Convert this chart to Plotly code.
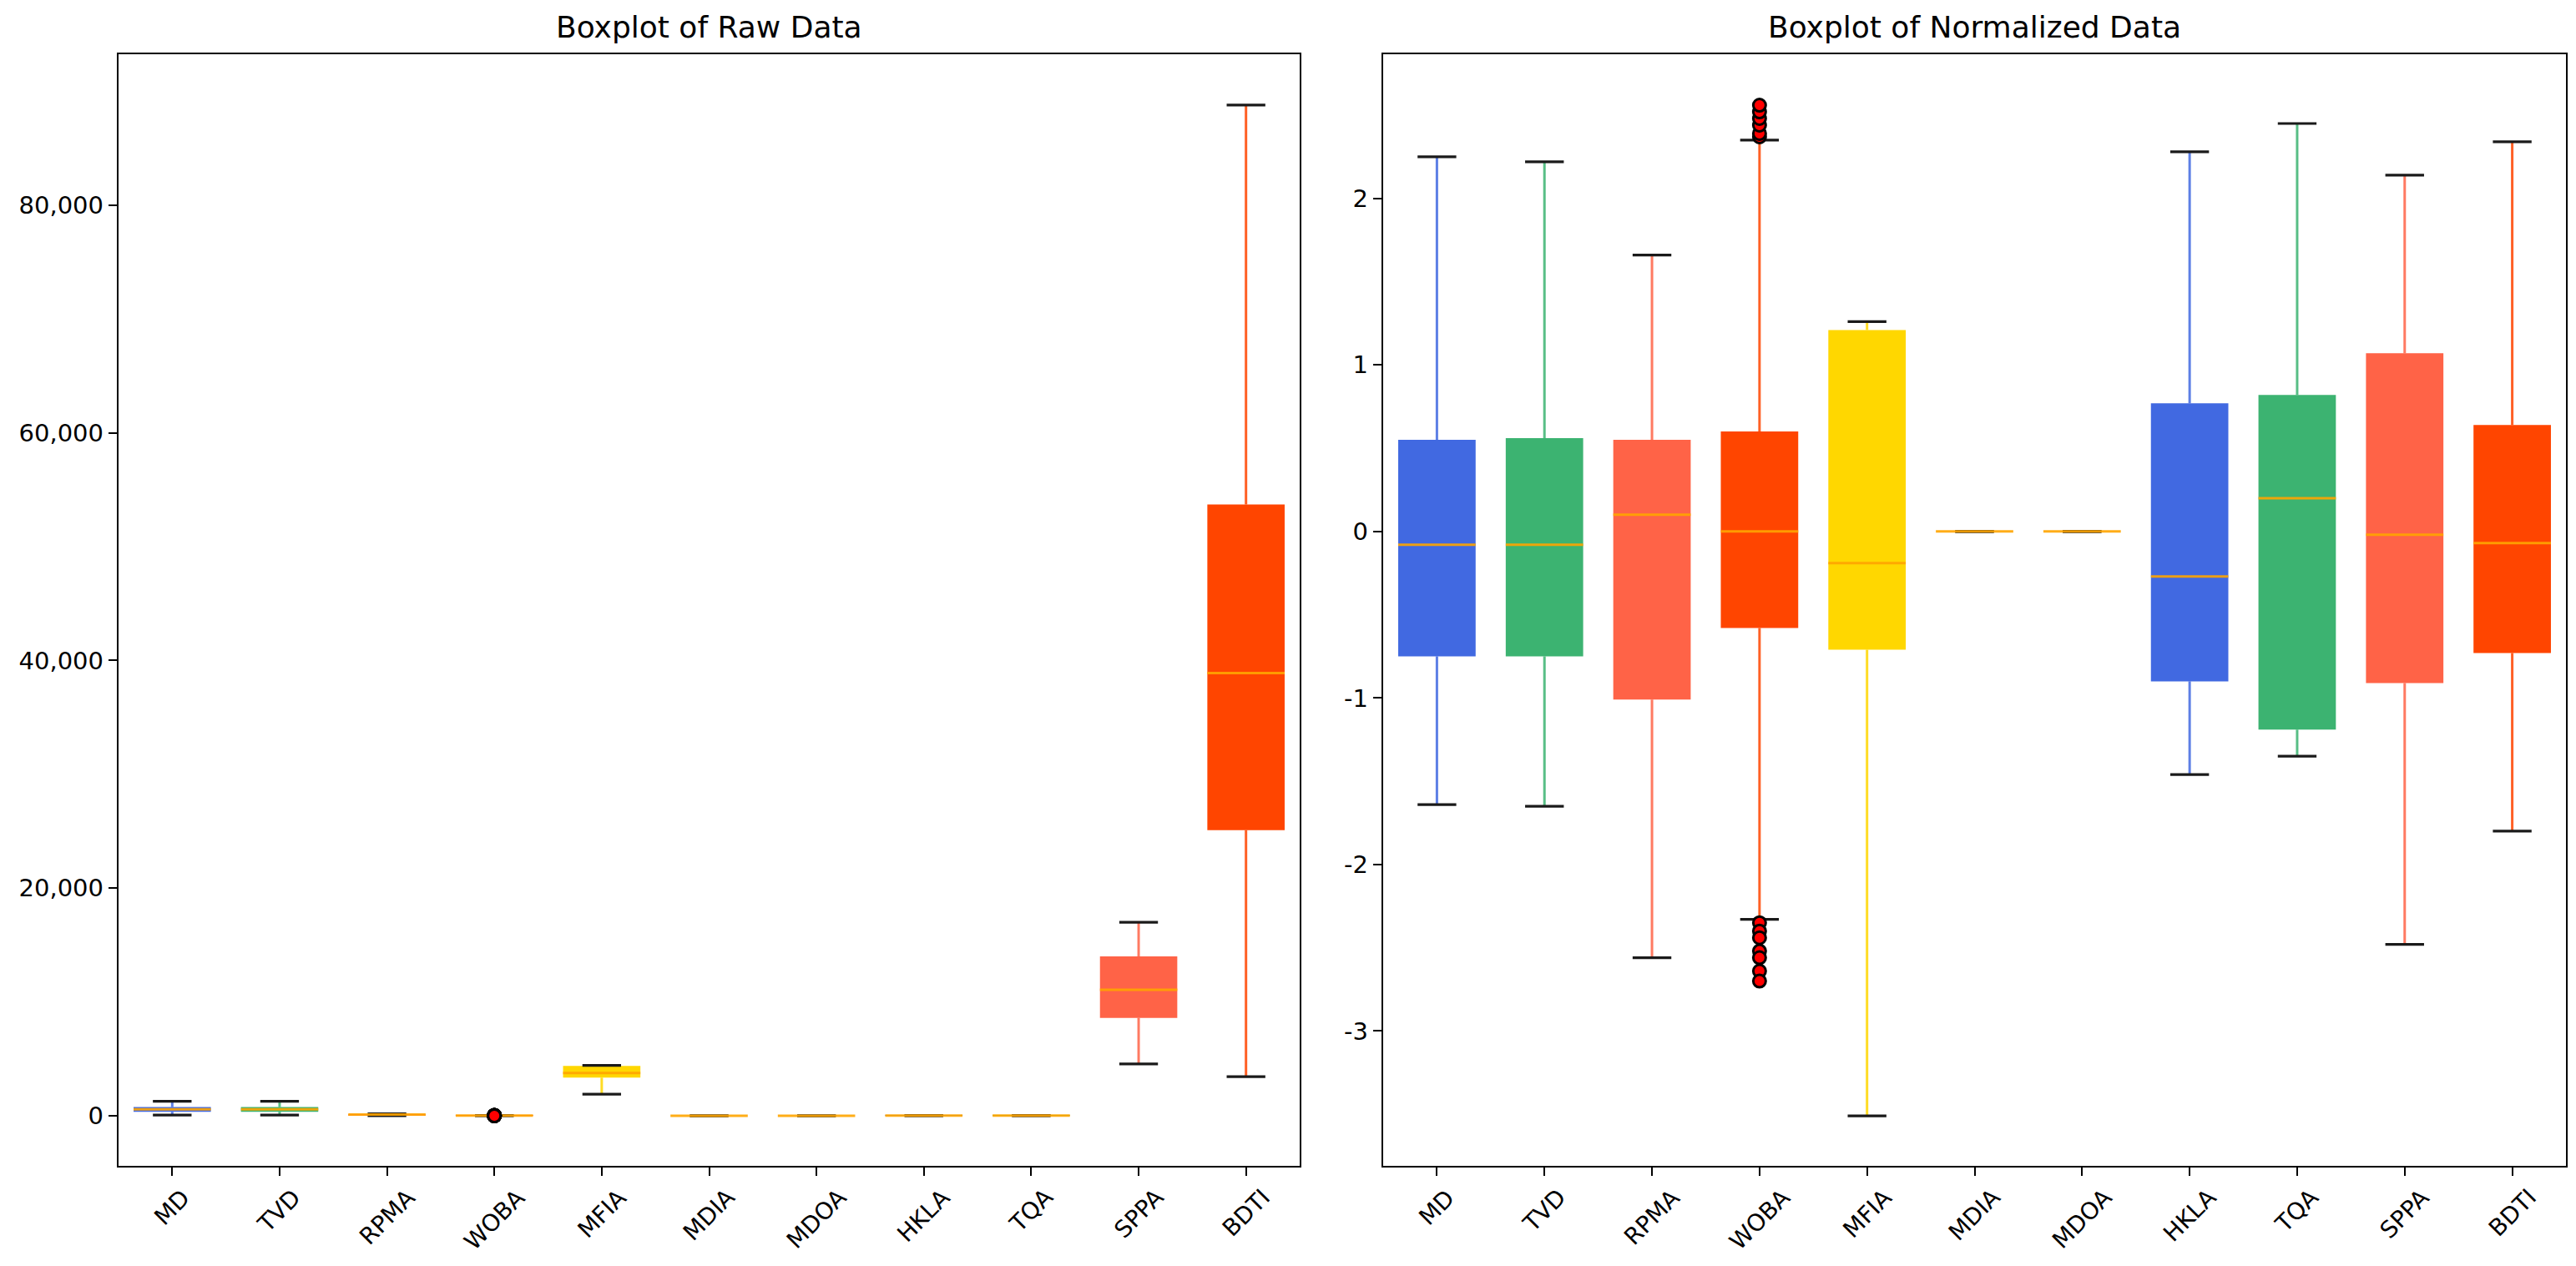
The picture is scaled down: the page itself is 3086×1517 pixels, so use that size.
import plotly.graph_objects as go

categories = ["MD", "TVD", "RPMA", "WOBA", "MFIA", "MDIA", "MDOA", "HKLA", "TQA", "SPPA", "BDTI"]
box_colors = ["#4169E1", "#3CB371", "#FF6347", "#FF4500", "#FFD700",
              "#4169E1", "#3CB371", "#4169E1", "#3CB371", "#FF6347", "#FF4500"]

# Raw data statistics
raw_low = [70, 70, 8, 3.4, 1900, 0, 0, 13, 4.6, 4560, 3440]
raw_q1 = [350, 350, 70, 12.1, 3350, 0, 0, 15, 5.2, 8600, 25100]
raw_med = [560, 560, 114, 15, 3750, 0, 0, 19, 10.8, 11070, 38900]
raw_q3 = [760, 760, 132, 18, 4380, 0, 0, 24, 13.3, 14000, 53700]
raw_high = [1280, 1270, 176, 26.8, 4420, 0, 0, 31, 19.8, 17000, 88800]
raw_woba_outliers = [27.0, 27.2, 27.4, 27.6, 27.8, 28.0, 3.2, 3.0, 2.8, 2.4, 2.2, 1.8, 1.5]

# Normalized data statistics
norm_low = [-1.64, -1.65, -2.56, -2.33, -3.51, 0, 0, -1.46, -1.35, -2.48, -1.80]
norm_q1 = [-0.75, -0.75, -1.01, -0.58, -0.71, 0, 0, -0.90, -1.19, -0.91, -0.73]
norm_med = [-0.08, -0.08, 0.10, 0.00, -0.19, 0, 0, -0.27, 0.20, -0.02, -0.07]
norm_q3 = [0.55, 0.56, 0.55, 0.60, 1.21, 0, 0, 0.77, 0.82, 1.07, 0.64]
norm_high = [2.25, 2.22, 1.66, 2.35, 1.26, 0, 0, 2.28, 2.45, 2.14, 2.34]
norm_woba_outliers = [2.37, 2.39, 2.44, 2.48, 2.52, 2.56,
                      -2.35, -2.40, -2.44, -2.52, -2.56, -2.64, -2.70]

titles = ["Boxplot of Raw Data", "Boxplot of Normalized Data"]
raw_yticks = [0, 20000, 40000, 60000, 80000]
norm_yticks = [-3, -2, -1, 0, 1, 2]

BOX_W = 0.72
CAP_W = 0.36
FONT = "DejaVu Sans"

fig = go.Figure()


def add_panel(col, low, q1, med, q3, high, outliers, outlier_pos):
    xa = "x" if col == 1 else "x2"
    ya = "y" if col == 1 else "y2"
    pos = list(range(len(categories)))
    # boxes
    fig.add_trace(go.Bar(
        x=pos, y=[b - a for a, b in zip(q1, q3)], base=q1, width=BOX_W,
        marker=dict(color=box_colors, line=dict(width=0)),
        xaxis=xa, yaxis=ya, showlegend=False, hoverinfo="skip"))
    # whiskers
    for i in pos:
        fig.add_trace(go.Scatter(
            x=[i, i, None, i, i], y=[low[i], q1[i], None, q3[i], high[i]],
            mode="lines", line=dict(color=box_colors[i], width=3),
            opacity=0.85,
            xaxis=xa, yaxis=ya, showlegend=False, hoverinfo="skip"))
    # caps
    cx, cy = [], []
    for i in pos:
        for v in (low[i], high[i]):
            cx += [i - CAP_W / 2, i + CAP_W / 2, None]
            cy += [v, v, None]
    fig.add_trace(go.Scatter(x=cx, y=cy, mode="lines",
                             line=dict(color="#1a1a1a", width=3.2),
                             xaxis=xa, yaxis=ya, showlegend=False, hoverinfo="skip"))
    # medians
    mx, my = [], []
    for i in pos:
        mx += [i - BOX_W / 2, i + BOX_W / 2, None]
        my += [med[i], med[i], None]
    fig.add_trace(go.Scatter(x=mx, y=my, mode="lines",
                             line=dict(color="#FFA500", width=3),
                             opacity=0.9,
                             xaxis=xa, yaxis=ya, showlegend=False, hoverinfo="skip"))
    # outliers
    fig.add_trace(go.Scatter(
        x=[outlier_pos] * len(outliers), y=outliers, mode="markers",
        marker=dict(color="red", size=15, line=dict(color="black", width=3)),
        xaxis=xa, yaxis=ya, showlegend=False, hoverinfo="skip"))


add_panel(1, raw_low, raw_q1, raw_med, raw_q3, raw_high, raw_woba_outliers, 3)
add_panel(2, norm_low, norm_q1, norm_med, norm_q3, norm_high, norm_woba_outliers, 3)

# The page body has an 8px margin; size the figure so it fits the window exactly.
OFF = 8
W, H = 3086 - 2 * OFF, 1517 - 2 * OFF


def px_x(p):
    return (p - OFF) / W


def px_y(p):
    return 1 - (p - OFF) / H


left_dom = [px_x(142), px_x(1557)]
right_dom = [px_x(1657), px_x(3074)]
y_dom = [px_y(1397), px_y(65)]

axis_common = dict(showline=True, mirror=True, linecolor="black", linewidth=2.4,
                   ticks="outside", ticklen=10, tickwidth=2.4, tickcolor="black",
                   showgrid=False, zeroline=False,
                   tickfont=dict(family=FONT, size=29, color="black"))

fig.update_layout(
    width=W, height=H,
    margin=dict(l=0, r=0, t=0, b=0, autoexpand=False),
    paper_bgcolor="white", plot_bgcolor="white",
    showlegend=False, barmode="overlay",
    xaxis=dict(domain=left_dom, range=[-0.5, 10.5], tickvals=list(range(11)),
               showticklabels=False, anchor="y", **axis_common),
    xaxis2=dict(domain=right_dom, range=[-0.5, 10.5], tickvals=list(range(11)),
                showticklabels=False, anchor="y2", **axis_common),
    yaxis=dict(domain=y_dom, range=[-4400, 93260], tickvals=raw_yticks,
               ticktext=[f"{v:,}" for v in raw_yticks], anchor="x", **axis_common),
    yaxis2=dict(domain=y_dom, range=[-3.81, 2.866], tickvals=norm_yticks,
                ticktext=[f"{v}" for v in norm_yticks], anchor="x2", **axis_common),
)

annotations = []
for xa, dom, title in (("x", left_dom, titles[0]), ("x2", right_dom, titles[1])):
    annotations.append(dict(text=title, x=(dom[0] + dom[1]) / 2, y=px_y(33),
                            xref="paper", yref="paper", xanchor="center", yanchor="middle",
                            showarrow=False, font=dict(family=FONT, size=36, color="black")))
    for i, c in enumerate(categories):
        annotations.append(dict(text=c, x=i, y=px_y(1417), xref=xa, yref="paper",
                                xanchor="center", yanchor="top", textangle=-45,
                                showarrow=False, borderpad=0,
                                font=dict(family=FONT, size=28, color="black")))
fig.update_layout(annotations=annotations)

fig.write_html("out.html")
